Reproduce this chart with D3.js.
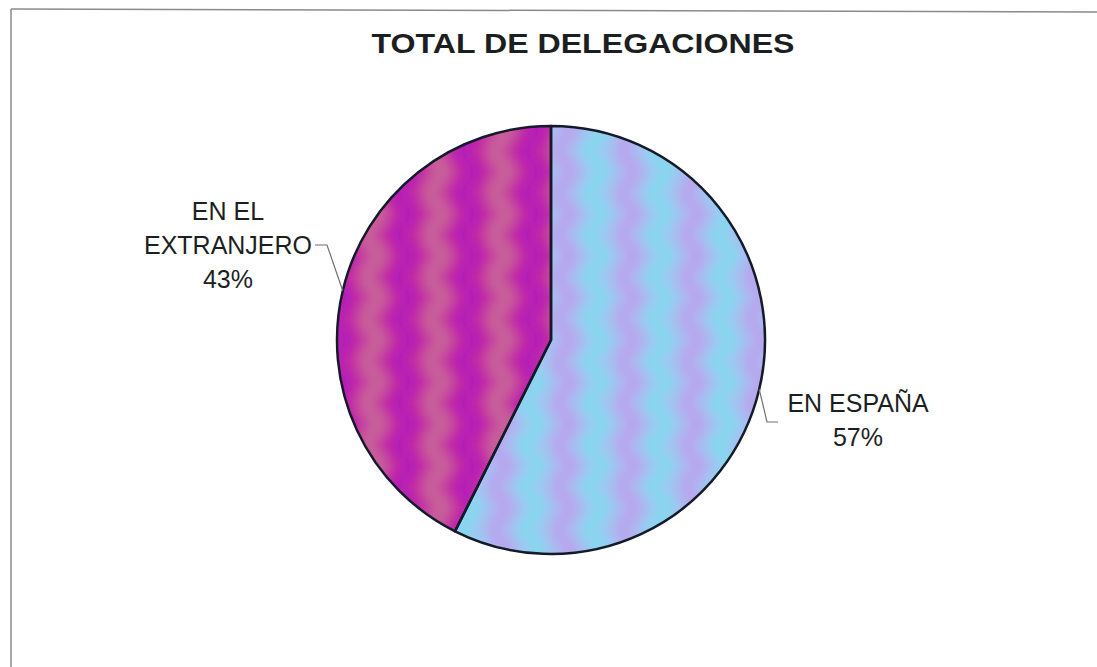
<!DOCTYPE html>
<html>
<head>
<meta charset="utf-8">
<script src="https://cdn.jsdelivr.net/npm/d3@7"></script>
<style>
  body { margin: 0; background: #fff; }
  svg { display: block; }
</style>
</head>
<body>
<svg width="1097" height="667"></svg>
<script>
// data
const categories = ["EN ESPAÑA", "EN EL EXTRANJERO"];
const values = [57.4, 42.6];
const labelLines = [["EN ESPAÑA"], ["EN EL", "EXTRANJERO"]];
const title = "TOTAL DE DELEGACIONES";

var svg = d3.select("svg"),
    width = +svg.attr("width"),
    height = +svg.attr("height");

var cx = 551, cy = 340, r = 214;

// frame (only top and left edges show)
svg.append("line").attr("x1", 11).attr("y1", 9).attr("x2", width).attr("y2", 12)
    .attr("stroke", "#8a8a8a").attr("stroke-width", 1.5);
svg.append("line").attr("x1", 11).attr("y1", 9).attr("x2", 11).attr("y2", height)
    .attr("stroke", "#8a8a8a").attr("stroke-width", 1.5);

// title
svg.append("text")
    .attr("x", 583).attr("y", 53)
    .attr("text-anchor", "middle")
    .attr("font-family", "Liberation Sans, Arial, sans-serif")
    .attr("font-weight", "bold")
    .attr("font-size", 28)
    .attr("textLength", 423)
    .attr("lengthAdjust", "spacingAndGlyphs")
    .attr("fill", "#1c1f22")
    .text(title);

// textures: soft wavy vertical bands
var defs = svg.append("defs");
var textures = [
  {id: "tex0", base: "#a2c4f2", band: "#b8a6ee", band2: "#84d8f0"},
  {id: "tex1", base: "#c42aa2", band: "#c8609a", band2: "#b41ab8"}
];
textures.forEach(function(t) {
  var p = defs.append("pattern").attr("id", t.id)
      .attr("patternUnits", "userSpaceOnUse")
      .attr("width", 64).attr("height", 84);
  p.append("rect").attr("width", 64).attr("height", 84).attr("fill", t.base);
  var zig = d3.line().curve(d3.curveCatmullRom)([[-6, -21], [8, 0], [-6, 21], [8, 42], [-6, 63], [8, 84], [-6, 105]]);
  p.append("path").attr("d", zig).attr("transform", "translate(12,0)")
      .attr("fill", "none").attr("stroke", t.band).attr("stroke-width", 18);
  p.append("path").attr("d", zig).attr("transform", "translate(44,0)")
      .attr("fill", "none").attr("stroke", t.band2).attr("stroke-width", 14);
});
defs.append("filter").attr("id", "soft")
    .attr("x", "-5%").attr("y", "-5%").attr("width", "110%").attr("height", "110%")
  .append("feGaussianBlur").attr("stdDeviation", 6);

var pie = d3.pie().sort(null).value(function(d) { return d; });
var arcs = pie(values);
var arc = d3.arc().innerRadius(0).outerRadius(r);
var edge = d3.arc().innerRadius(r).outerRadius(r);
var total = d3.sum(values);
var pct = d3.format(".0%");

var g = svg.append("g").attr("transform", "translate(" + cx + "," + cy + ")");

arcs.forEach(function(a, i) {
  defs.append("clipPath").attr("id", "clip" + i)
    .append("path").attr("d", arc(a));
  g.append("g").attr("clip-path", "url(#clip" + i + ")")
    .append("rect")
      .attr("x", -r - 30).attr("y", -r - 30)
      .attr("width", 2 * r + 60).attr("height", 2 * r + 60)
      .attr("fill", "url(#tex" + i + ")")
      .attr("filter", "url(#soft)");
});

g.selectAll("path.slice")
  .data(arcs)
  .enter().append("path")
    .attr("class", "slice")
    .attr("d", arc)
    .attr("fill", "none")
    .attr("stroke", "#141a28")
    .attr("stroke-width", 2.5)
    .attr("stroke-linejoin", "round");

// labels with leader lines
var labelPos = [
  {x: 858, y: 412, elbow: [767, 422], end: [778, 422]},
  {x: 228, y: 220, elbow: [327, 245], end: [315, 245]}
];

arcs.forEach(function(a, i) {
  var p = edge.centroid(a);
  var lp = labelPos[i];
  svg.append("path")
    .attr("d", d3.line()([[cx + p[0], cy + p[1]], lp.elbow, lp.end]))
    .attr("fill", "none")
    .attr("stroke", "#707070")
    .attr("stroke-width", 1.2);

  var lines = labelLines[i].concat([pct(a.data / total)]);
  var t = svg.append("text")
    .attr("text-anchor", "middle")
    .attr("font-family", "Liberation Sans, Arial, sans-serif")
    .attr("font-size", 25)
    .attr("fill", "#1c1f22");
  lines.forEach(function(s, k) {
    t.append("tspan").attr("x", lp.x).attr("y", lp.y + k * 34).text(s);
  });
});
</script>
</body>
</html>
